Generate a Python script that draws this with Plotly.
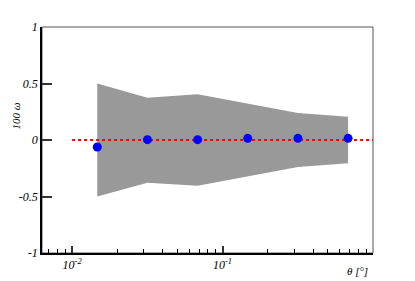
import plotly.graph_objects as go

theta = [0.0147, 0.0317, 0.0683, 0.147, 0.317, 0.683]
omega = [-0.062, 0.003, 0.003, 0.015, 0.015, 0.015]
band_hi = [0.50, 0.375, 0.405, 0.325, 0.24, 0.206]
band_lo = [-0.50, -0.378, -0.404, -0.32, -0.24, -0.206]
ref_x = [0.01, 1.0]
ref_y = [0.0, 0.0]

x_major = [0.01, 0.1]
x_major_text = ["10<sup>-2</sup>", "10<sup>-1</sup>"]
x_minor = [k * 10 ** e for e in (-3, -2, -1) for k in range(2, 10) if 0.0063 < k * 10 ** e < 1]
y_ticks = [-1, -0.5, 0, 0.5, 1]
y_text = ["-1", "-0.5", "0", "0.5", "1"]

serif = dict(family="Liberation Serif", size=12, color="black", style="italic")

fig = go.Figure()
fig.add_trace(go.Scatter(x=theta + theta[::-1], y=band_hi + band_lo[::-1],
                         fill="toself", fillcolor="#999999", line=dict(width=0),
                         mode="lines", hoverinfo="skip", showlegend=False))
fig.add_trace(go.Scatter(x=ref_x, y=ref_y, mode="lines",
                         line=dict(color="red", width=2, dash="dot"), showlegend=False))
fig.add_trace(go.Scatter(x=theta, y=omega, mode="markers",
                         marker=dict(color="blue", size=9), showlegend=False))

fig.add_shape(type="rect", xref="paper", yref="paper", x0=0, y0=0, x1=1, y1=1,
              line=dict(color="#555555", width=1), layer="below")

fig.update_layout(
    width=407, height=273,
    margin=dict(l=34, r=42, t=19, b=28, autoexpand=False),
    plot_bgcolor="white", paper_bgcolor="white",
    xaxis=dict(type="log", range=[-2.2, 0], showgrid=False, zeroline=False,
               showline=True, linecolor="black", linewidth=1.5,
               tickmode="array", tickvals=x_major, ticktext=x_major_text,
               ticks="inside", ticklen=7, tickwidth=1.5, tickcolor="#333333",
               tickfont=serif, automargin=False,
               minor=dict(tickmode="array", tickvals=x_minor, ticks="inside",
                          ticklen=4, tickwidth=1, tickcolor="black")),
    yaxis=dict(range=[-1, 1], showgrid=False, zeroline=False,
               showline=True, linecolor="black", linewidth=1.5,
               tickmode="array", tickvals=y_ticks, ticktext=y_text,
               ticks="inside", ticklen=10, tickwidth=1.5, tickcolor="#333333",
               tickfont=serif, automargin=False),
    annotations=[
        dict(text="θ [°]", xref="paper", yref="paper", x=0.991, y=-0.08,
             xanchor="right", yanchor="middle", showarrow=False,
             font=dict(family="Liberation Serif", size=11, color="black", style="italic")),
        dict(text="100 ω", xref="paper", yref="paper", x=-0.08, y=0.675,
             xanchor="center", yanchor="top", textangle=-90, showarrow=False,
             font=dict(family="Liberation Serif", size=11, color="black", style="italic")),
    ],
)
fig.write_html("out.html")
